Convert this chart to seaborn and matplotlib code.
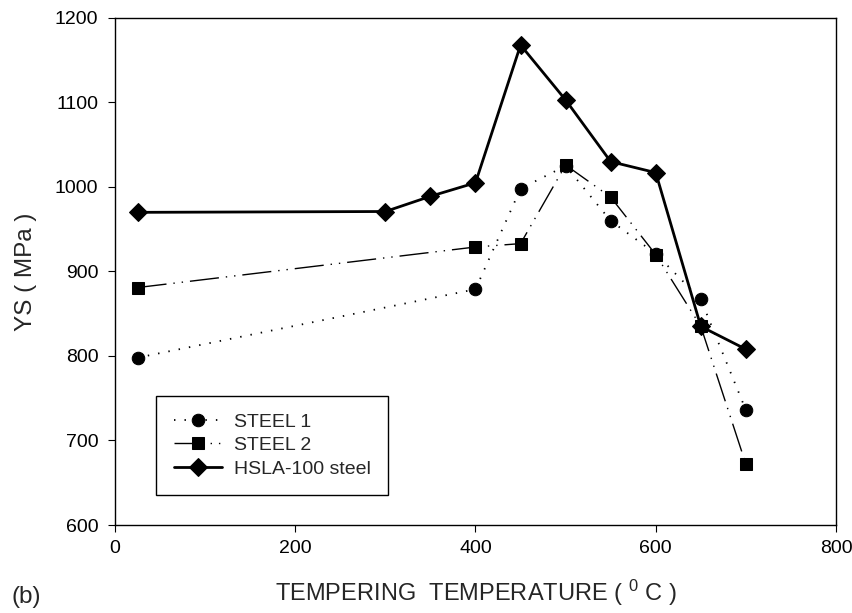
import matplotlib
matplotlib.use("Agg")
import matplotlib.pyplot as plt
import seaborn as sns
import pandas as pd

# ---- data ----
steel1_T = [25, 400, 450, 500, 550, 600, 650, 700]
steel1_ys = [798, 879, 998, 1025, 960, 921, 867, 736]

steel2_T = [25, 400, 450, 500, 550, 600, 650, 700]
steel2_ys = [881, 929, 933, 1026, 988, 920, 835, 672]

hsla_T = [25, 300, 350, 400, 450, 500, 550, 600, 650, 700]
hsla_ys = [970, 971, 989, 1005, 1168, 1103, 1030, 1017, 835, 808]

series_names = ["STEEL 1", "STEEL 2", "HSLA-100 steel"]
x_ticks = [0, 200, 400, 600, 800]
y_ticks = [600, 700, 800, 900, 1000, 1100, 1200]

sns.set_style("ticks")
plt.rcParams["font.family"] = ["Liberation Sans", "DejaVu Sans"]
plt.rcParams["mathtext.fontset"] = "custom"
plt.rcParams["mathtext.rm"] = "Liberation Sans"
plt.rcParams["mathtext.it"] = "Liberation Sans"

fig = plt.figure(figsize=(8.53, 6.13), dpi=100)
ax = fig.add_axes([115 / 853, 88 / 613, 721 / 853, 507 / 613])

df1 = pd.DataFrame({"T": steel1_T, "YS": steel1_ys})
df2 = pd.DataFrame({"T": steel2_T, "YS": steel2_ys})
df3 = pd.DataFrame({"T": hsla_T, "YS": hsla_ys})

sns.lineplot(data=df1, x="T", y="YS", ax=ax, color="black", lw=1.3,
             linestyle=(0, (0.8, 5)), marker="o", markersize=9,
             markeredgecolor="black", label=series_names[0])
sns.lineplot(data=df2, x="T", y="YS", ax=ax, color="black", lw=1.0,
             linestyle=(0, (21, 5, 1, 5, 1, 5)), marker="s", markersize=8.5,
             markeredgecolor="black", label=series_names[1])
sns.lineplot(data=df3, x="T", y="YS", ax=ax, color="black", lw=2.0,
             linestyle="-", marker="D", markersize=9,
             markeredgecolor="black", label=series_names[2])

ax.set_xlim(0, 800)
ax.set_ylim(600, 1200)
ax.set_xticks(x_ticks)
ax.set_yticks(y_ticks)
ax.tick_params(axis="both", direction="out", length=5, width=0.8,
               labelsize=14, colors="black")
ax.tick_params(axis="x", pad=6)
ax.tick_params(axis="y", pad=7)
for s in ax.spines.values():
    s.set_visible(True)
    s.set_color("black")
    s.set_linewidth(1.0)

ax.set_xlabel("TEMPERING  TEMPERATURE ( $^{0}$ C )", fontsize=17, labelpad=15)
ax.set_ylabel("YS ( MPa )", fontsize=17.5, labelpad=12.5)

leg = ax.legend(loc="lower left", bbox_to_anchor=(0.057, 0.059),
                borderaxespad=0, fontsize=14, frameon=True, fancybox=False,
                shadow=False, framealpha=1, edgecolor="black",
                handlelength=2.5, handletextpad=0.6, labelspacing=0.3,
                borderpad=0.9)
leg.get_frame().set_linewidth(1.0)

fig.text(12 / 853, 1 - 597 / 613, "(b)", fontsize=17.5, va="center", ha="left")

fig.savefig("out.png", dpi=100, facecolor="white")
